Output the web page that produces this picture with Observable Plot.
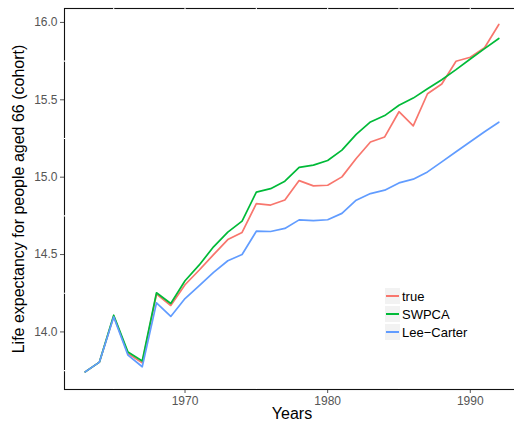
<!DOCTYPE html>
<html>
<head>
<meta charset="utf-8">
<script src="https://cdn.jsdelivr.net/npm/d3@7"></script>
<script src="https://cdn.jsdelivr.net/npm/@observablehq/plot@0.6"></script>
<style>
  html, body { margin: 0; padding: 0; background: #fff; overflow: hidden; }
  #wrap { position: relative; width: 514px; height: 430px; overflow: hidden; font-family: "Liberation Sans", Arial, sans-serif; }
  #wrap svg { display: block; max-width: none !important; width: 520px !important; height: 430px !important; }
  .legend { position: absolute; left: 385px; top: 287px; font-size: 13px; color: #000; }
  .legend .row { display: flex; align-items: center; height: 18px; }
  .legend .key { width: 15px; height: 16px; background: #f2f2f2; position: relative; margin-right: 2px; }
  .legend .key span { position: absolute; left: 1px; right: 1px; top: 7px; height: 2px; }
</style>
</head>
<body>
<div id="wrap"></div>
<script>
const years = [1963,1964,1965,1966,1967,1968,1969,1970,1971,1972,1973,1974,1975,1976,1977,1978,1979,1980,1981,1982,1983,1984,1985,1986,1987,1988,1989,1990,1991,1992];
const trueVals = [13.742,13.805,14.102,13.860,13.800,14.245,14.171,14.305,14.400,14.500,14.597,14.643,14.829,14.820,14.853,14.978,14.944,14.948,15.002,15.121,15.227,15.260,15.423,15.331,15.539,15.602,15.749,15.775,15.836,15.987];
const swpcaVals = [13.742,13.805,14.108,13.870,13.812,14.253,14.184,14.331,14.433,14.550,14.645,14.716,14.903,14.926,14.974,15.063,15.078,15.108,15.175,15.277,15.357,15.398,15.465,15.511,15.571,15.630,15.695,15.764,15.831,15.896];
const leeCarterVals = [13.742,13.805,14.097,13.850,13.775,14.188,14.100,14.216,14.300,14.385,14.460,14.500,14.651,14.649,14.669,14.724,14.719,14.725,14.766,14.851,14.894,14.916,14.963,14.987,15.034,15.099,15.164,15.229,15.294,15.355];
const seriesNames = ["true", "SWPCA", "Lee\u2212Carter"];
const seriesColors = ["#F8766D", "#00BA38", "#619CFF"];
const xMajor = [1970, 1980, 1990];
const xMinor = [1965, 1975, 1985];
const yMajor = [14.0, 14.5, 15.0, 15.5, 16.0];
const yMinor = [13.75, 14.25, 14.75, 15.25, 15.75];
const xDomain = [1961.55, 1993.45];
const yDomain = [13.628, 16.09];
const xTitle = "Years";
const yTitle = "Life expectancy for people aged 66 (cohort)";

const valueSets = [trueVals, swpcaVals, leeCarterVals];
const data = [];
seriesNames.forEach((s, i) => years.forEach((yr, j) => data.push({series: s, year: yr, value: valueSets[i][j]})));

const lineMarks = seriesNames.map((s, i) =>
  Plot.line(data.filter(d => d.series === s), {x: "year", y: "value", stroke: seriesColors[i], strokeWidth: 1.7})
);

const chart = Plot.plot({
  width: 520,
  height: 430,
  marginLeft: 64,
  marginRight: 1,
  marginTop: 8,
  marginBottom: 41,
  style: {fontFamily: "'Liberation Sans', Arial, sans-serif", fontSize: "12px", color: "#555", background: "#fff", overflow: "visible", maxWidth: "none"},
  x: {domain: xDomain, ticks: xMajor, tickFormat: "d", tickSize: 4, tickPadding: 3, label: null},
  y: {domain: yDomain, ticks: yMajor, tickFormat: ".1f", tickSize: 4, tickPadding: 3, label: null},
  marks: [
    Plot.frame({stroke: "#111", strokeWidth: 1.1}),
    Plot.ruleX(xMinor, {stroke: "#fff", strokeWidth: 1.1}),
    Plot.ruleX(xMajor, {stroke: "#fff", strokeWidth: 1.1, insetBottom: 1.5}),
    Plot.ruleY(yMinor, {stroke: "#fff", strokeWidth: 1.1}),
    Plot.ruleY(yMajor, {stroke: "#fff", strokeWidth: 1.1, insetLeft: 1.5}),
    ...lineMarks,
    Plot.text([xTitle], {frameAnchor: "bottom", dy: 29, fontSize: 16, fill: "#000", textAnchor: "middle", text: d => d}),
    Plot.text([yTitle], {frameAnchor: "left", dx: -46, rotate: -90, fontSize: 16, fill: "#000", textAnchor: "middle", text: d => d})
  ]
});

const wrap = document.getElementById("wrap");
wrap.appendChild(chart);

const legend = document.createElement("div");
legend.className = "legend";
seriesNames.forEach((s, i) => {
  const row = document.createElement("div");
  row.className = "row";
  const key = document.createElement("div");
  key.className = "key";
  const ln = document.createElement("span");
  ln.style.background = seriesColors[i];
  key.appendChild(ln);
  const lab = document.createElement("div");
  lab.textContent = s;
  row.appendChild(key);
  row.appendChild(lab);
  legend.appendChild(row);
});
wrap.appendChild(legend);
</script>
</body>
</html>
